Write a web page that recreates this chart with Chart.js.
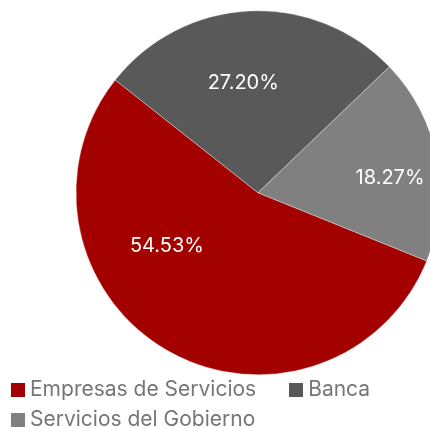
<!DOCTYPE html>
<html>
<head>
<meta charset="utf-8">
<script src="https://cdn.jsdelivr.net/npm/chart.js@4/dist/chart.umd.min.js"></script>
<style>
  html, body { margin: 0; padding: 0; background: #fff; }
  .viewport { width: 430px; height: 428px; overflow: hidden; position: relative; }
  .chart-box { position: absolute; left: 0; top: 0; width: 516px; height: 440px; }
  #legend {
    position: absolute; left: 11px; top: 375px; width: 419px;
    display: flex; flex-wrap: wrap;
    font-family: Inter, 'Open Sans', sans-serif; font-size: 21px; color: #767676;
  }
  #legend .item { display: flex; align-items: center; height: 30px; margin-right: 33px; white-space: nowrap; }
  #legend .box { width: 14px; height: 14px; margin-right: 5px; }
  #legend .txt { position: relative; top: -1.5px; }
</style>
</head>
<body>
<div class="viewport">
  <div class="chart-box"><canvas id="pieChart"></canvas></div>
  <div id="legend"></div>
</div>
<script>
// DATA
const categories = ["Empresas de Servicios", "Banca", "Servicios del Gobierno"];
const shares = [54.53, 27.20, 18.27];

const sliceColors = ["#a30000", "#595959", "#808080"];
const FONT = "Inter, 'Open Sans', sans-serif";

// draws the % text inside each slice
const sliceLabels = {
  id: "sliceLabels",
  afterDatasetsDraw(chart, args, opts) {
    const ctx = chart.ctx;
    const meta = chart.getDatasetMeta(0);
    ctx.save();
    ctx.fillStyle = "#ffffff";
    ctx.font = "20px " + FONT;
    ctx.textAlign = "center";
    ctx.textBaseline = "middle";
    meta.data.forEach(function (arc, i) {
      const p = arc.getProps(["x", "y", "startAngle", "endAngle", "outerRadius"], true);
      const a = p.startAngle + (p.endAngle - p.startAngle) * opts.angleFrac[i];
      const r = p.outerRadius * opts.radiusFrac[i];
      const txt = shares[i].toFixed(2) + "%";
      ctx.fillText(txt, p.x + Math.cos(a) * r, p.y + Math.sin(a) * r);
    });
    ctx.restore();
  }
};

const ctx = document.getElementById("pieChart").getContext("2d");

const chart = new Chart(ctx, {
  type: "pie",
  data: {
    labels: categories,
    datasets: [{
      data: shares,
      backgroundColor: sliceColors,
      borderColor: "rgba(255,255,255,0.6)",
      borderWidth: 0.6,
      clip: false
    }]
  },
  options: {
    responsive: true,
    maintainAspectRatio: false,
    animation: false,
    rotation: 112,
    radius: 182,
    layout: { padding: { top: 15.5, bottom: 70 } },
    plugins: {
      legend: { display: false },
      tooltip: { enabled: false },
      sliceLabels: {
        angleFrac: [0.65, 0.45, 0.57],
        radiusFrac: [0.58, 0.61, 0.73]
      }
    }
  },
  plugins: [sliceLabels]
});

// LEGEND (built from the chart's own labels/colours)
const legendEl = document.getElementById("legend");
chart.data.labels.forEach(function (label, i) {
  const item = document.createElement("div");
  item.className = "item";
  const box = document.createElement("span");
  box.className = "box";
  box.style.background = chart.data.datasets[0].backgroundColor[i];
  const txt = document.createElement("span");
  txt.className = "txt";
  txt.textContent = label;
  item.appendChild(box);
  item.appendChild(txt);
  legendEl.appendChild(item);
});
</script>
</body>
</html>
